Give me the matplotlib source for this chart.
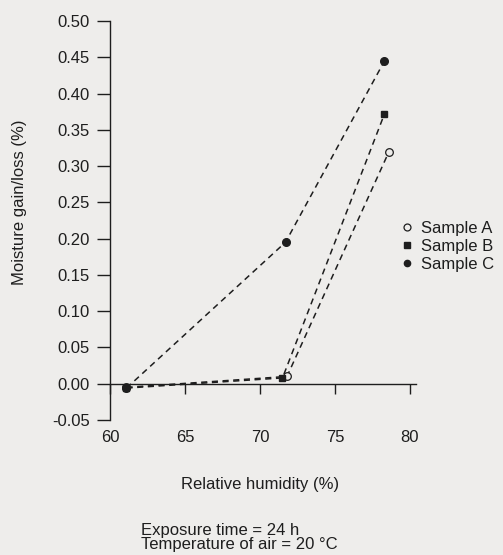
import matplotlib
matplotlib.use("Agg")
import matplotlib.pyplot as plt
from matplotlib.lines import Line2D

plt.rcParams['font.family'] = ['Liberation Sans', 'DejaVu Sans']

humidity_A = [61.1, 71.8, 78.6]
gain_A = [-0.005, 0.010, 0.320]
humidity_B = [61.1, 71.5, 78.3]
gain_B = [-0.006, 0.008, 0.372]
humidity_C = [61.1, 71.7, 78.3]
gain_C = [-0.006, 0.195, 0.445]
series_labels = ["Sample A", "Sample B", "Sample C"]
x_ticks = [60, 65, 70, 75, 80]
y_ticks = [-0.05, 0.00, 0.05, 0.10, 0.15, 0.20, 0.25, 0.30, 0.35, 0.40, 0.45, 0.50]

W, H = 503, 555
bg = '#eeedeb'
ink = '#1e1e1e'
fs = 12
fig = plt.figure(figsize=(W/100, H/100), dpi=100, facecolor=bg)
ax = fig.add_axes([110/W, 1-420/H, (416-110)/W, (420-21)/H], facecolor=bg)

dash = (0, (4, 3))
ax.plot(humidity_A, gain_A, linestyle=dash, color=ink, lw=1.1, marker='o',
        markerfacecolor=bg, markeredgecolor=ink, markersize=5.5, markeredgewidth=0.9)
ax.plot(humidity_B, gain_B, linestyle=dash, color=ink, lw=1.1, marker='s',
        markerfacecolor=ink, markeredgecolor=ink, markersize=4.5)
ax.plot(humidity_C, gain_C, linestyle=dash, color=ink, lw=1.1, marker='o',
        markerfacecolor=ink, markeredgecolor=ink, markersize=5.5)

ax.set_xlim(60, 80.4)
ax.set_ylim(-0.05, 0.50)
ax.spines['top'].set_visible(False)
ax.spines['right'].set_visible(False)
ax.spines['bottom'].set_position(('data', 0))
ax.spines['bottom'].set_color(ink)
ax.spines['left'].set_color(ink)
ax.spines['bottom'].set_linewidth(1.0)
ax.spines['left'].set_linewidth(1.0)

ax.set_xticks(x_ticks)
ax.set_xticklabels([str(t) for t in x_ticks])
ax.set_yticks(y_ticks)
ax.set_yticklabels([f"{t:.2f}" for t in y_ticks])
ax.tick_params(axis='x', direction='out', length=7, width=1.0, color=ink,
               pad=26, labelsize=fs, labelcolor=ink)
ax.tick_params(axis='y', direction='out', length=9.5, width=1.0, color=ink,
               pad=5, labelsize=fs, labelcolor=ink)

fig.text(20/W, 1-202/H, "Moisture gain/loss (%)", rotation=90, ha='center',
         va='center', fontsize=fs, color=ink)
fig.text(260/W, 1-485/H, "Relative humidity (%)", ha='center', va='center',
         fontsize=fs, color=ink)
fig.text(141/W, 1-530/H, "Exposure time = 24 h", ha='left', va='center',
         fontsize=fs, color=ink)
fig.text(141/W, 1-545/H, "Temperature of air = 20 °C", ha='left', va='center',
         fontsize=fs, color=ink)

handles = [
    Line2D([], [], linestyle='none', marker='o', markerfacecolor=bg,
           markeredgecolor=ink, markersize=5, markeredgewidth=0.9),
    Line2D([], [], linestyle='none', marker='s', markerfacecolor=ink,
           markeredgecolor=ink, markersize=4.5),
    Line2D([], [], linestyle='none', marker='o', markerfacecolor=ink,
           markeredgecolor=ink, markersize=4.5),
]
leg = fig.legend(handles, series_labels, loc='upper left',
                 bbox_to_anchor=(403/W, 1-221/H), frameon=False,
                 fontsize=fs, handlelength=0.5, handletextpad=0.6,
                 labelspacing=0.18, borderpad=0, borderaxespad=0)
for t in leg.get_texts():
    t.set_color(ink)

fig.savefig("out.png", dpi=100, facecolor=bg)
